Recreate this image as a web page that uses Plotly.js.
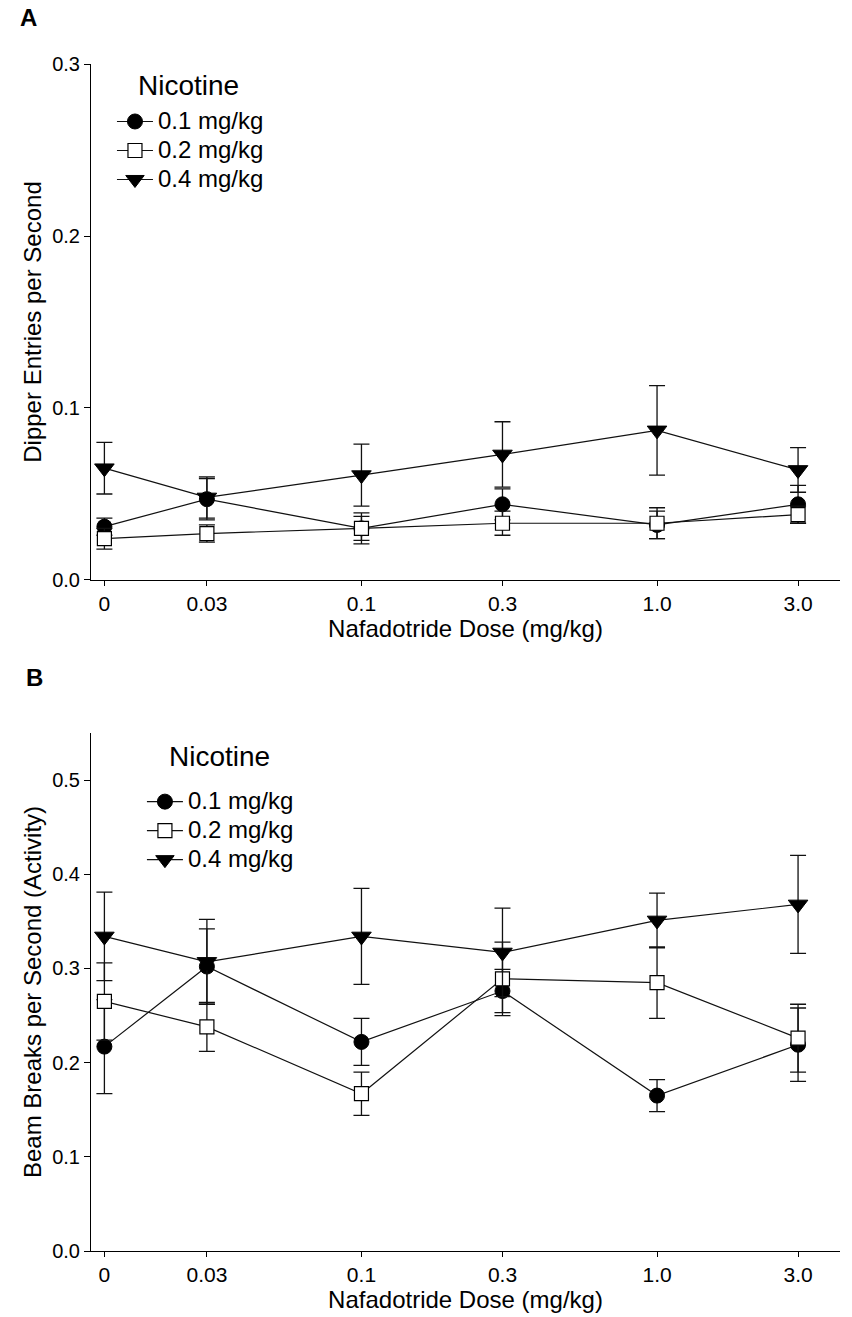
<!DOCTYPE html>
<html>
<head>
<meta charset="utf-8">
<script src="https://cdn.plot.ly/plotly-3.0.1.min.js"></script>
<style>html,body{margin:0;padding:0;background:#fff;}#chart{width:852px;height:1317px;}</style>
</head>
<body>
<div id="chart"></div>
<script>
// Nafadotride doses (0 drawn at the left break position of the log axis)
const doseLabels = ["0", "0.03", "0.1", "0.3", "1.0", "3.0"];
const dosePositions = [0.0135, 0.03, 0.1, 0.3, 1.0, 3.0];
const seriesNames = ["0.1 mg/kg", "0.2 mg/kg", "0.4 mg/kg"];
const legendTitle = "Nicotine";

// Panel A: Dipper entries per second
const dipper01 = [0.031, 0.047, 0.030, 0.044, 0.032, 0.044];
const dipper01Err = [0.005, 0.012, 0.009, 0.009, 0.008, 0.011];
const dipper02 = [0.024, 0.027, 0.030, 0.033, 0.033, 0.038];
const dipper02Err = [0.006, 0.005, 0.007, 0.007, 0.009, 0.005];
const dipper04 = [0.065, 0.048, 0.061, 0.073, 0.087, 0.064];
const dipper04Err = [0.015, 0.012, 0.018, 0.019, 0.026, 0.013];

// Panel B: Beam breaks per second (activity)
const beam01 = [0.217, 0.302, 0.222, 0.276, 0.165, 0.219];
const beam01Err = [0.050, 0.040, 0.025, 0.023, 0.017, 0.039];
const beam02 = [0.265, 0.238, 0.167, 0.289, 0.285, 0.226];
const beam02Err = [0.041, 0.026, 0.023, 0.039, 0.038, 0.036];
const beam04 = [0.334, 0.307, 0.334, 0.317, 0.351, 0.368];
const beam04Err = [0.047, 0.045, 0.051, 0.047, 0.029, 0.052];

const markerStyles = [
  {symbol: 'circle', size: 15, color: '#000', line: {color: '#000', width: 1}},
  {symbol: 'square', size: 14, color: '#fff', line: {color: '#000', width: 1.2}},
  {symbol: 'triangle-down', size: 17, color: '#000', line: {color: '#000', width: 1}}
];

function makeTrace(y, err, idx, xa, ya, legend) {
  return {
    type: 'scatter', mode: 'lines+markers',
    x: dosePositions, y: y,
    name: '<span style="font-size:24px">' + seriesNames[idx] + '</span>',
    xaxis: xa, yaxis: ya, legend: legend,
    line: {color: '#111', width: 1.2},
    marker: markerStyles[idx],
    error_y: {type: 'data', array: err, visible: true, color: '#111', thickness: 1.3, width: 8},
    cliponaxis: false
  };
}

const data = [
  makeTrace(dipper01, dipper01Err, 0, 'x', 'y', 'legend'),
  makeTrace(dipper02, dipper02Err, 1, 'x', 'y', 'legend'),
  makeTrace(dipper04, dipper04Err, 2, 'x', 'y', 'legend'),
  makeTrace(beam01, beam01Err, 0, 'x2', 'y2', 'legend2'),
  makeTrace(beam02, beam02Err, 1, 'x2', 'y2', 'legend2'),
  makeTrace(beam04, beam04Err, 2, 'x2', 'y2', 'legend2')
];

const fontFam = 'Liberation Sans, Arial, sans-serif';

function xAxis(anchor) {
  return {
    type: 'log', range: [-1.915, 0.619], anchor: anchor,
    tickvals: dosePositions, ticktext: doseLabels,
    showline: true, linecolor: '#000', linewidth: 1,
    ticks: 'outside', ticklen: 5, tickcolor: '#000',
    showgrid: false, zeroline: false,
    tickfont: {family: fontFam, size: 21, color: '#000'},
    title: {text: 'Nafadotride Dose (mg/kg)', font: {family: fontFam, size: 24, color: '#000'}, standoff: 4},
    fixedrange: true
  };
}
function yAxis(anchor, domain, range, titleText) {
  return {
    domain: domain, range: range, anchor: anchor,
    tickvals: [0, 0.1, 0.2, 0.3, 0.4, 0.5], tickformat: '.1f',
    showline: true, linecolor: '#000', linewidth: 1,
    ticks: 'outside', ticklen: 6, tickcolor: '#000',
    showgrid: false, zeroline: false,
    tickfont: {family: fontFam, size: 20, color: '#000'},
    title: {text: titleText, font: {family: fontFam, size: 24, color: '#000'}, standoff: 3},
    fixedrange: true
  };
}

const legendBase = {
  xanchor: 'left', yanchor: 'top', bgcolor: 'rgba(0,0,0,0)',
  font: {family: fontFam, size: 20, color: '#000'},
  tracegroupgap: 0, itemwidth: 36
};

function titleAnno(x, y) {
  return {text: legendTitle, xref: 'paper', yref: 'paper', x: x, y: y, showarrow: false,
    font: {family: fontFam, size: 28, color: '#000'}, xanchor: 'center', yanchor: 'middle'};
}

const layout = {
  width: 852, height: 1317,
  margin: {l: 91, r: 12, t: 64, b: 66},
  paper_bgcolor: '#fff', plot_bgcolor: '#fff',
  showlegend: true,
  xaxis: xAxis('y'),
  yaxis: yAxis('x', [0.5653, 1], [0, 0.3], 'Dipper Entries per Second'),
  xaxis2: xAxis('y2'),
  yaxis2: yAxis('x2', [0, 0.4364], [0, 0.55], 'Beam Breaks per Second (Activity)'),
  legend: Object.assign({}, legendBase, {x: 0.028, y: 0.968}),
  legend2: Object.assign({}, legendBase, {x: 0.068, y: 0.395}),
  annotations: [
    titleAnno(0.1308, 0.9823),
    titleAnno(0.1722, 0.4162),
    {text: '<b>A</b>', xref: 'paper', yref: 'paper', x: -0.083, y: 1.039, showarrow: false,
     font: {family: fontFam, size: 24, color: '#000'}, xanchor: 'center', yanchor: 'middle'},
    {text: '<b>B</b>', xref: 'paper', yref: 'paper', x: -0.075, y: 0.483, showarrow: false,
     font: {family: fontFam, size: 24, color: '#000'}, xanchor: 'center', yanchor: 'middle'}
  ]
};

Plotly.newPlot('chart', data, layout, {displayModeBar: false, staticPlot: true});
</script>
</body>
</html>
